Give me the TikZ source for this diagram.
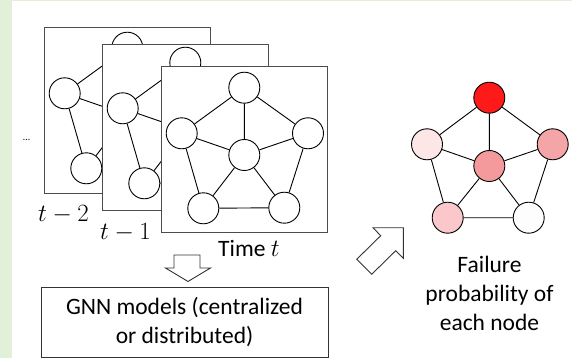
\documentclass[tikz,border=0pt]{standalone}
\usepackage{fontspec}
\setmainfont{Carlito}
\begin{document}
\begin{tikzpicture}[x=1pt,y=-1pt,
  gn/.style={circle,draw=black,line width=0.9pt,fill=white,minimum size=31pt,inner sep=0pt},
  ge/.style={draw=black,line width=0.9pt},
  framebox/.style={draw=black!70,line width=1.3pt,fill=white,minimum width=166pt,minimum height=166pt,inner sep=0pt,anchor=north west},
  txt/.style={inner sep=0pt,font=\fontsize{23.5}{28.7}\selectfont},
  mlbl/.style={inner sep=0pt,anchor=base west,font=\fontsize{24}{28}\selectfont},
  blockarrow/.style={draw=black!80,line width=0.9pt,fill=white,line join=miter},
  pics/netg/.style={code={
    \node[gn] (-a) at (83.3,21.7) {};
    \node[gn] (-l) at (20.7,67.3) {};
    \node[gn] (-r) at (147,67.3) {};
    \node[gn] (-c) at (83.3,89) {};
    \node[gn] (-bl) at (42.3,142.3) {};
    \node[gn] (-br) at (123.3,141.7) {};
    \draw[ge] (-a)--(-l) (-a)--(-r) (-a)--(-c) (-l)--(-c) (-r)--(-c)
      (-l)--(-bl) (-r)--(-br) (-c)--(-bl) (-c)--(-br) (-bl)--(-br);
  }}
]
\definecolor{bggreen}{RGB}{226,239,217}
\useasboundingbox (0,0) rectangle (572,358);
\fill[white] (0,0) rectangle (572,358);
\fill[bggreen] (0,0) rectangle (12,358);
\fill[bggreen] (0,0) rectangle (572,1.2);

% stacked frames
\node[framebox] (F2) at (44,27) {};
\pic (G2) at (44,26) {netg};
\node[framebox] (F1) at (102,44) {};
\pic (G1) at (102,41) {netg};
\node[framebox] (F0) at (161,66) {};
\pic (G0) at (161,66) {netg};

\node[mlbl] (T2) at (38,221.7) {$t-2$};
\node[mlbl] (T1) at (100,239.3) {$t-1$};
\node[txt,anchor=base west] (Tt) at (218,256.7) {Time $t$};
\node[inner sep=0pt,font=\fontsize{10}{12}\selectfont] (dots) at (26.5,140) {…};

% down arrow
\draw[blockarrow] (174,255) -- (200,255) -- (200,268) -- (210.5,268) -- (188,281.5) -- (165.5,268) -- (174,268) -- cycle;

% GNN box
\node[draw=black!80,line width=0.9pt,minimum width=287pt,minimum height=70pt,inner sep=0pt,
      align=center,font=\fontsize{23.5}{28.7}\selectfont] (gnn) at (184.5,322.2) {GNN models (centralized\\or distributed)};

% diagonal arrow
\draw[blockarrow] (403.3,227.7) -- (403.3,258.3) -- (395.7,250.7) -- (371.7,274.3) -- (356.7,259.3) -- (380.7,235.7) -- (373,227.7) -- cycle;

% result graph
\definecolor{pr0}{RGB}{255,26,26}
\definecolor{pr1}{RGB}{253,230,230}
\definecolor{pr2}{RGB}{244,165,168}
\definecolor{pr3}{RGB}{244,154,156}
\definecolor{pr4}{RGB}{250,200,202}
\definecolor{pr5}{RGB}{253,253,253}
\node[gn,fill=pr0] (Ra) at (489.3,97.7) {};
\node[gn,fill=pr1] (Rl) at (427,144.3) {};
\node[gn,fill=pr2] (Rr) at (552.7,144.3) {};
\node[gn,fill=pr3] (Rc) at (489.3,166) {};
\node[gn,fill=pr4] (Rbl) at (447.7,217.7) {};
\node[gn,fill=pr5] (Rbr) at (528.7,217.7) {};
\draw[ge] (Ra)--(Rl) (Ra)--(Rr) (Ra)--(Rc) (Rl)--(Rc) (Rr)--(Rc)
  (Rl)--(Rbl) (Rr)--(Rbr) (Rc)--(Rbl) (Rc)--(Rbr) (Rbl)--(Rbr);

\node[txt,align=center] (fail) at (489.5,293.5) {Failure\\probability of\\each node};
\end{tikzpicture}
\end{document}
